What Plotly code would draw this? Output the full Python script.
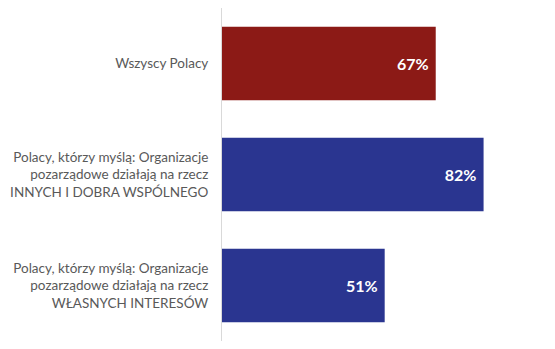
import plotly.graph_objects as go

categories = [
    "Wszyscy Polacy",
    "Polacy, którzy myślą: Organizacje<br>pozarządowe działają na rzecz<br>INNYCH I DOBRA WSPÓLNEGO",
    "Polacy, którzy myślą: Organizacje<br>pozarządowe działają na rzecz<br>WŁASNYCH INTERESÓW",
]
values = [67, 82, 51]
colors = ["#8C1A16", "#2A3590", "#2A3590"]

fig = go.Figure(go.Bar(
    y=categories,
    x=values,
    orientation="h",
    marker=dict(color=colors, line=dict(width=0)),
    text=[f"<b>{v}%</b> " for v in values],
    textposition="inside",
    insidetextanchor="end",
    textfont=dict(family="Lato", size=16, color="white"),
    hoverinfo="skip",
))

fig.update_layout(
    width=555, height=349,
    margin=dict(l=222, r=14, t=8, b=8),
    paper_bgcolor="white",
    plot_bgcolor="white",
    bargap=0.34,
    showlegend=False,
    font=dict(family="Lato", size=13.5, color="#595959"),
)
fig.update_xaxes(range=[0, 100], showgrid=False, showticklabels=False, zeroline=False,
                 showline=False, fixedrange=True)
fig.update_yaxes(autorange="reversed", showgrid=False, showline=True, linecolor="#D9D9D9",
                 linewidth=1, ticks="", ticklabelstandoff=10,
                 tickfont=dict(family="Lato", size=13.5, color="#595959"))

fig.write_html("out.html")
